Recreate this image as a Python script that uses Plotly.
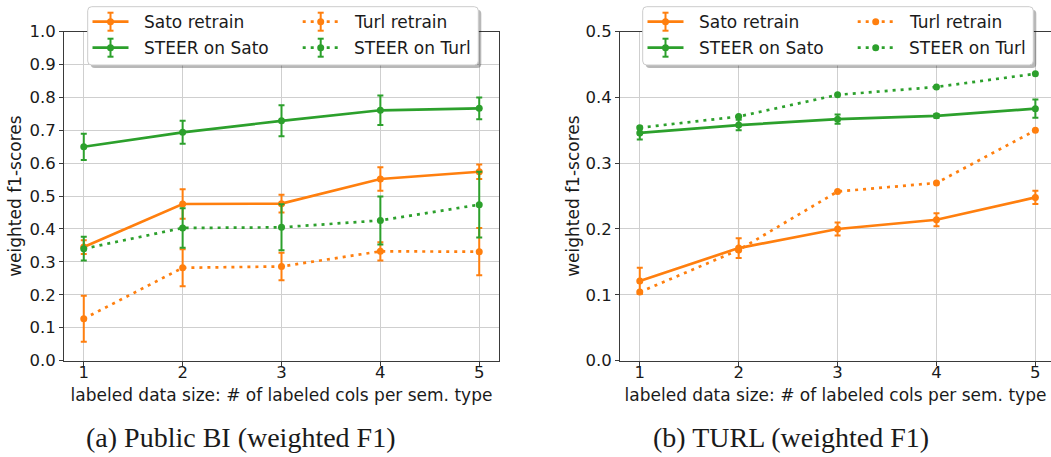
import plotly.graph_objects as go

# labeled columns per semantic type
sizes = [1, 2, 3, 4, 5]
size_ticks = ["1", "2", "3", "4", "5"]

# Public BI (weighted F1)
pbi_sato_retrain = [0.345, 0.476, 0.477, 0.552, 0.574]
pbi_sato_retrain_err = [0.021, 0.045, 0.027, 0.036, 0.022]
pbi_steer_sato = [0.650, 0.694, 0.729, 0.761, 0.767]
pbi_steer_sato_err = [0.040, 0.035, 0.047, 0.045, 0.033]
pbi_turl_retrain = [0.127, 0.282, 0.286, 0.332, 0.331]
pbi_turl_retrain_err = [0.070, 0.056, 0.042, 0.028, 0.072]
pbi_steer_turl = [0.340, 0.403, 0.405, 0.426, 0.474]
pbi_steer_turl_err = [0.036, 0.060, 0.070, 0.073, 0.100]

# TURL (weighted F1)
turl_sato_retrain = [0.121, 0.171, 0.200, 0.214, 0.248]
turl_sato_retrain_err = [0.020, 0.015, 0.010, 0.010, 0.010]
turl_steer_sato = [0.346, 0.358, 0.367, 0.372, 0.383]
turl_steer_sato_err = [0.010, 0.008, 0.007, 0.003, 0.014]
turl_turl_retrain = [0.104, 0.168, 0.257, 0.270, 0.350]
turl_steer_turl = [0.354, 0.371, 0.404, 0.416, 0.436]

left_yticks = [0.0, 0.1, 0.2, 0.3, 0.4, 0.5, 0.6, 0.7, 0.8, 0.9, 1.0]
right_yticks = [0.0, 0.1, 0.2, 0.3, 0.4, 0.5]

series_names = ["Sato retrain", "STEER on Sato", "Turl retrain", "STEER on Turl"]
captions = ["(a) Public BI (weighted F1)", "(b) TURL (weighted F1)"]
x_title = "labeled data size: # of labeled cols per sem. type"
y_title = "weighted f1-scores"

ORANGE = "#ff7f0e"
GREEN = "#2ca02c"
DOT = "3px,5px"
FONT = "DejaVu Sans"
INK = "#1a1a1a"
W, H = 1051, 457


def px(x):
    return x / W


def py(y):
    return 1 - y / H


def series(x, y, err, name, color, dotted, xa, ya):
    tr = dict(
        x=x, y=y, name=name, mode="lines+markers", showlegend=False,
        line=dict(color=color, width=2.7, dash=DOT if dotted else "solid"),
        marker=dict(color=color, size=7),
        xaxis=xa, yaxis=ya,
    )
    if err is not None:
        tr["error_y"] = dict(type="data", array=err, color=color, thickness=2, width=3)
    return go.Scatter(**tr)


fig = go.Figure()
# Public BI panel
fig.add_trace(series(sizes, pbi_sato_retrain, pbi_sato_retrain_err, series_names[0], ORANGE, False, "x", "y"))
fig.add_trace(series(sizes, pbi_steer_sato, pbi_steer_sato_err, series_names[1], GREEN, False, "x", "y"))
fig.add_trace(series(sizes, pbi_turl_retrain, pbi_turl_retrain_err, series_names[2], ORANGE, True, "x", "y"))
fig.add_trace(series(sizes, pbi_steer_turl, pbi_steer_turl_err, series_names[3], GREEN, True, "x", "y"))
# TURL panel
fig.add_trace(series(sizes, turl_sato_retrain, turl_sato_retrain_err, series_names[0], ORANGE, False, "x2", "y2"))
fig.add_trace(series(sizes, turl_steer_sato, turl_steer_sato_err, series_names[1], GREEN, False, "x2", "y2"))
fig.add_trace(series(sizes, turl_turl_retrain, None, series_names[2], ORANGE, True, "x2", "y2"))
fig.add_trace(series(sizes, turl_steer_turl, None, series_names[3], GREEN, True, "x2", "y2"))

axis_common = dict(
    automargin=False,
    showline=True, linecolor="#3a3a3a", linewidth=1, mirror=True,
    ticks="outside", ticklen=4, tickwidth=1, tickcolor="#3a3a3a",
    showgrid=True, gridcolor="#cfcfcf", gridwidth=1, zeroline=False,
    tickfont=dict(family=FONT, size=16.5, color=INK),
)

plot_top = 31.7
plot_bottom = 360.5
y_dom = [py(plot_bottom), py(plot_top)]

fig.update_layout(
    width=W, height=H,
    margin=dict(l=0, r=0, t=0, b=0, pad=0, autoexpand=False),
    paper_bgcolor="white", plot_bgcolor="white",
    font=dict(family=FONT, size=17, color=INK),
    showlegend=False,
    xaxis=dict(axis_common, domain=[px(64), px(499)], range=[0.8, 5.2],
               tickvals=sizes, ticktext=size_ticks, ticklabelstandoff=-7,
               title=dict(text=x_title, standoff=7, font=dict(size=17))),
    yaxis=dict(axis_common, domain=y_dom, range=[0, 1.0],
               tickvals=left_yticks, tickformat=".1f",
               title=dict(text=y_title, standoff=3, font=dict(size=17))),
    xaxis2=dict(axis_common, domain=[px(620), 1.0], range=[0.8, 5.158], anchor="y2",
                tickvals=sizes, ticktext=size_ticks, ticklabelstandoff=-7,
                title=dict(text=x_title, standoff=7, font=dict(size=17))),
    yaxis2=dict(axis_common, mirror=False, domain=y_dom, range=[0, 0.5], anchor="x2",
                tickvals=right_yticks, tickformat=".1f",
                title=dict(text=y_title, standoff=1, font=dict(size=17))),
)


# Two-column legend box (with drop shadow) drawn for each panel
def rounded_rect(x0, y0, x1, y1, r):
    X = lambda v: px(v)
    Y = lambda v: py(v)
    return (f"M {X(x0 + r)},{Y(y0)} L {X(x1 - r)},{Y(y0)} Q {X(x1)},{Y(y0)} {X(x1)},{Y(y0 + r)} "
            f"L {X(x1)},{Y(y1 - r)} Q {X(x1)},{Y(y1)} {X(x1 - r)},{Y(y1)} "
            f"L {X(x0 + r)},{Y(y1)} Q {X(x0)},{Y(y1)} {X(x0)},{Y(y1 - r)} "
            f"L {X(x0)},{Y(y0 + r)} Q {X(x0)},{Y(y0)} {X(x0 + r)},{Y(y0)} Z")


def add_legend(ox, with_err):
    top, bottom, width = 6.7, 65.0, 390.6
    fig.add_shape(type="path", path=rounded_rect(ox + 3, top + 3, ox + width + 3, bottom + 3, 4),
                  xref="paper", yref="paper", fillcolor="rgba(0,0,0,0.28)", line=dict(width=0))
    fig.add_shape(type="path", path=rounded_rect(ox, top, ox + width, bottom, 4),
                  xref="paper", yref="paper", fillcolor="white", line=dict(color="#cccccc", width=1))
    styles = [(ORANGE, False), (GREEN, False), (ORANGE, True), (GREEN, True)]
    col_x = [4.8, 215.0]
    text_x = [54.5, 264.0]
    row_y = [21.7, 47.7]
    for i, (name, (color, dotted), err) in enumerate(zip(series_names, styles, with_err)):
        col, row = i // 2, i % 2
        x0 = ox + col_x[col]
        x1 = x0 + 36
        xc = (x0 + x1) / 2
        yc = row_y[row]
        fig.add_shape(type="line", xref="paper", yref="paper",
                      x0=px(x0), x1=px(x1), y0=py(yc), y1=py(yc),
                      line=dict(color=color, width=2.7, dash=DOT if dotted else "solid"))
        if err:
            fig.add_shape(type="line", xref="paper", yref="paper",
                          x0=px(xc), x1=px(xc), y0=py(yc - 9), y1=py(yc + 9),
                          line=dict(color=color, width=2))
            for cy in (yc - 9, yc + 9):
                fig.add_shape(type="line", xref="paper", yref="paper",
                              x0=px(xc - 3), x1=px(xc + 3), y0=py(cy), y1=py(cy),
                              line=dict(color=color, width=2))
        fig.add_shape(type="circle", xref="paper", yref="paper",
                      x0=px(xc - 3.5), x1=px(xc + 3.5), y0=py(yc + 3.5), y1=py(yc - 3.5),
                      fillcolor=color, line=dict(width=0))
        fig.add_annotation(text=name, x=px(ox + text_x[col]), y=py(yc), xref="paper", yref="paper",
                           xanchor="left", yanchor="middle", showarrow=False,
                           font=dict(family=FONT, size=17, color=INK))


add_legend(87.7, [True, True, True, True])
add_legend(642.7, [True, True, False, False])

for text, cx in zip(captions, [240.5, 791]):
    fig.add_annotation(
        text=text, x=px(cx), y=py(437.5), xref="paper", yref="paper",
        xanchor="center", yanchor="middle", showarrow=False,
        font=dict(family="Liberation Serif", size=28, color=INK),
    )

fig.write_html("out.html")
